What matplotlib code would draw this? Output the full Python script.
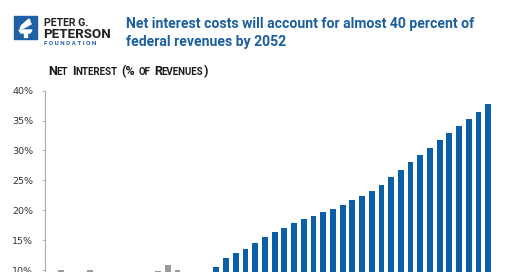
import numpy as np
import matplotlib
matplotlib.use('Agg')
import matplotlib.pyplot as plt
from matplotlib.patches import Rectangle, Polygon

# data (net interest as % of federal revenues)
hist_years = list(range(2007, 2022))
hist_vals = [9.2, 10.0, 8.9, 9.1, 10.0, 9.0, 8.0, 7.6, 6.9, 7.3, 7.9, 9.8, 10.8, 10.1, 8.7]
proj_years = list(range(2022, 2053))
proj_vals = [8.1, 9.3, 10.6, 12.1, 12.9, 13.6, 14.6, 15.5, 16.3, 17.1, 17.8,
             18.5, 19.0, 19.7, 20.3, 20.9, 21.7, 22.4, 23.3, 24.3, 25.5, 26.7,
             28.0, 29.2, 30.5, 31.7, 32.9, 34.1, 35.3, 36.5, 37.8]
yticks = [10, 15, 20, 25, 30, 35, 40]

BLUE = '#0a5fa8'
GRAY = '#9a9a9a'
TITLE_BLUE = '#1b5e9e'
FONT = 'Roboto'

W, H = 520, 272
fig = plt.figure(figsize=(W / 100, H / 100), dpi=100)


def px(x, y):
    return x / W, 1 - y / H


# logo
lx, ly = px(14, 39)
fig.patches.append(Rectangle((lx, ly), 23 / W, 23 / H, transform=fig.transFigure,
                             color='#1f5fa6', zorder=1))
torch = [[(19, 30), (32, 30), (30, 33), (21, 33)],
         [(24, 33), (27, 33), (27, 37), (24, 37)],
         [(20, 28), (30, 22), (31, 24), (22, 29)],
         [(21, 26), (29, 19), (30, 21), (22, 27)]]
for poly in torch:
    fig.patches.append(Polygon([px(a, b) for a, b in poly], closed=True,
                               transform=fig.transFigure, color='white', zorder=2))

fig.text(*px(44, 26), 'PETER G.', fontsize=7.6, fontweight='bold', family=FONT,
         color='#222222', va='baseline')
fig.text(*px(43.5, 38), 'PETERSON', fontsize=9.6, fontweight='bold', family=FONT,
         color='#222222', va='baseline')
fig.text(*px(44.5, 45), 'F O U N D A T I O N', fontsize=4.5, fontweight='bold',
         family=FONT, color='#1f5fa6', va='baseline')

# title
fig.text(*px(126, 24), 'Net interest costs will account for almost 40 percent of',
         fontsize=10.1, family=FONT, fontweight='bold', color=TITLE_BLUE, va='center')
fig.text(*px(126, 42), 'federal revenues by 2052',
         fontsize=10.1, family=FONT, fontweight='bold', color=TITLE_BLUE, va='center')

# small-caps subtitle
renderer = fig.canvas.get_renderer()
parts = [('N', 9.0), ('ET', 7.0), (' ', 0), ('I', 9.0), ('NTEREST', 7.0), (' ', 0),
         ('(%', 9.0), (' ', 0), ('OF', 7.0), (' ', 0), ('R', 9.0), ('EVENUES', 7.0),
         (')', 9.0)]
x0, y0 = px(48, 75)
for s, size in parts:
    if s == ' ':
        x0 += 3.6 / W
        continue
    t = fig.text(x0, y0, s, fontsize=size, fontweight='bold', family=FONT,
                 color='#1a1a1a', va='baseline')
    x0 += t.get_window_extent(renderer).width / W

# chart: axes runs from 40% at y=90.7 px down to 0% below the figure edge
top = 90.7
per = 5.98
bottom = top + 40 * per
ax = fig.add_axes([45 / W, 1 - bottom / H, 455 / W, (bottom - top) / H])
ax.bar(hist_years, hist_vals, width=0.6, color=GRAY)
ax.bar(proj_years, proj_vals, width=0.6, color=BLUE)
ax.set_ylim(0, 40)
ax.set_xlim(2008 - 16 / 9.71, 2008 + 439 / 9.71)
ax.set_yticks(yticks)
ax.set_yticklabels([f'{v}%' for v in yticks])
ax.tick_params(axis='y', length=2.5, width=0.6, color='#aaaaaa', labelsize=6.8,
               labelcolor='#333333', pad=6)
ax.set_xticks([])
for s in ['top', 'right', 'bottom']:
    ax.spines[s].set_visible(False)
ax.spines['left'].set_color('#aaaaaa')
ax.spines['left'].set_linewidth(0.8)

fig.savefig('out.png', dpi=100)
